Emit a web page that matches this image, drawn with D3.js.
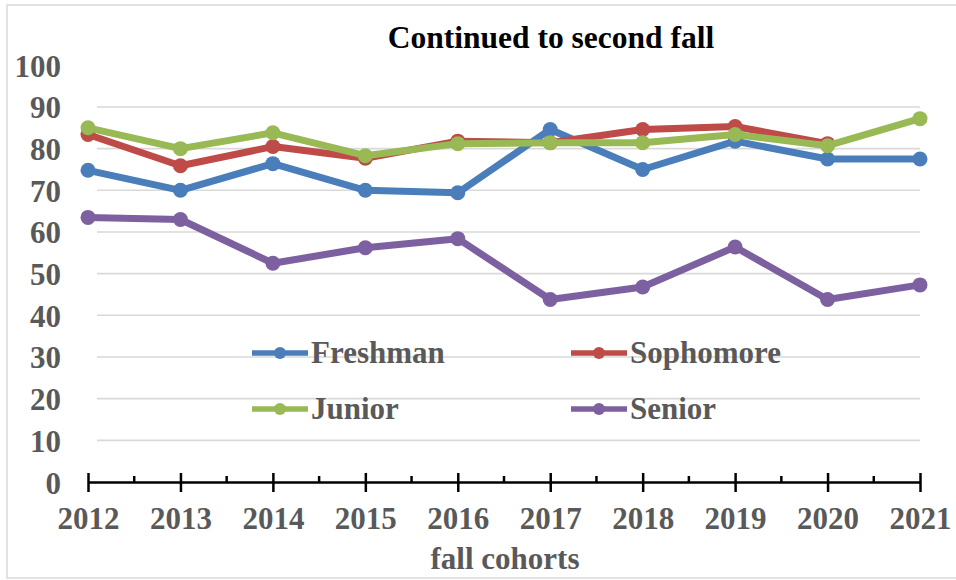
<!DOCTYPE html>
<html><head><meta charset="utf-8">
<script src="https://cdn.jsdelivr.net/npm/d3@7"></script>
<style>
html,body{margin:0;padding:0;background:#fff;}
svg{display:block;font-family:"Liberation Serif","Times New Roman",serif;}
</style></head>
<body>
<svg id="chart" width="956" height="580"></svg>
<script>
const years = ["2012","2013","2014","2015","2016","2017","2018","2019","2020","2021"];
const freshman  = [74.8, 70.0, 76.4, 70.0, 69.4, 84.6, 75.0, 81.8, 77.5, 77.5];
const sophomore = [83.4, 75.9, 80.5, 77.7, 81.8, 81.4, 84.6, 85.3, 81.2, null];
const junior    = [85.0, 80.0, 83.8, 78.3, 81.2, 81.4, 81.4, 83.4, 80.7, 87.2];
const senior    = [63.5, 63.0, 52.5, 56.2, 58.4, 43.8, 46.8, 56.4, 43.8, 47.3];
const yTicks = [0,10,20,30,40,50,60,70,80,90,100];
const seriesNames = ["Freshman","Sophomore","Junior","Senior"];
const seriesColors = ["#4A7EBB","#BE4B48","#98B954","#7D60A0"];
const title = "Continued to second fall";
const xTitle = "fall cohorts";

const series = [freshman, sophomore, junior, senior].map((v,i)=>({name:seriesNames[i], color:seriesColors[i], values:v}));

const svg = d3.select("#chart");
const x = d3.scalePoint().domain(years).range([88, 920]);
const y = d3.scaleLinear().domain([0,100]).range([482, 65.3]);

// outer border
svg.append("rect").attr("x",7).attr("y",5).attr("width",960).attr("height",573)
  .attr("fill","none").attr("stroke","#d9d9d9").attr("stroke-width",1.5);

// gridlines
svg.append("g").selectAll("line").data(yTicks.filter(t=>t>0 && t<100)).join("line")
  .attr("x1",97).attr("x2",920).attr("y1",d=>y(d)).attr("y2",d=>y(d))
  .attr("stroke","#d9d9d9").attr("stroke-width",1.6);

// y labels
const yAxis = d3.axisLeft(y).tickValues(yTicks).tickSize(0).tickPadding(0);
const gy = svg.append("g").attr("transform","translate(61,0)").call(yAxis);
gy.select(".domain").remove();
gy.selectAll("text").attr("font-family","Liberation Serif").attr("font-weight","bold")
  .attr("font-size",31).attr("fill","#595959").attr("dy",null).attr("y",11).attr("x",0);

// x axis
const minorTicks = years.slice(0,-1).map((d,i)=> (x(d)+x(years[i+1]))/2);
svg.append("g").selectAll("line").data(minorTicks).join("line")
  .attr("x1",d=>d).attr("x2",d=>d).attr("y1",476).attr("y2",482)
  .attr("stroke","#000").attr("stroke-width",2.5);
const xAxis = d3.axisBottom(x).tickSizeInner(19).tickSizeOuter(0).tickPadding(0);
const gx = svg.append("g").attr("transform","translate(0,482)").call(xAxis);
gx.select(".domain").attr("stroke","#000").attr("stroke-width",2.5);
gx.selectAll(".tick line").attr("stroke","#000").attr("stroke-width",2.5).attr("y1",-9).attr("y2",10);
gx.selectAll(".tick text").attr("font-family","Liberation Serif").attr("font-weight","bold")
  .attr("font-size",31).attr("fill","#595959").attr("dy",null).attr("y",47);

// lines
const line = d3.line().defined(d=>d!=null).x((d,i)=>x(years[i])).y(d=>y(d));
const sg = svg.append("g").selectAll("g").data(series).join("g");
sg.append("path").attr("d",d=>line(d.values)).attr("fill","none")
  .attr("stroke",d=>d.color).attr("stroke-width",7).attr("stroke-linejoin","round");
sg.selectAll("circle").data(d=>d.values.map((v,i)=>({v,i,c:d.color})).filter(p=>p.v!=null)).join("circle")
  .attr("cx",d=>x(years[d.i])).attr("cy",d=>y(d.v)).attr("r",7.5).attr("fill",d=>d.c);

// legend
const legendPos = [[252,353],[571,353],[252,409],[571,409]];
const lg = svg.append("g").selectAll("g").data(series).join("g")
  .attr("transform",(d,i)=>`translate(${legendPos[i][0]},${legendPos[i][1]})`);
lg.append("line").attr("x1",0).attr("x2",56).attr("stroke",d=>d.color).attr("stroke-width",5.5);
lg.append("circle").attr("cx",28).attr("r",6).attr("fill",d=>d.color);
lg.append("text").attr("x",59).attr("y",10).text(d=>d.name)
  .attr("font-family","Liberation Serif").attr("font-weight","bold").attr("font-size",31).attr("fill","#595959");

// title
svg.append("text").attr("x",551).attr("y",48).attr("text-anchor","middle")
  .attr("font-family","Liberation Serif").attr("font-weight","bold").attr("font-size",31.5).attr("fill","#000").text(title);
svg.append("text").attr("x",505).attr("y",569).attr("text-anchor","middle")
  .attr("font-family","Liberation Serif").attr("font-weight","bold").attr("font-size",31).attr("fill","#595959").text(xTitle);
</script>
</body></html>
